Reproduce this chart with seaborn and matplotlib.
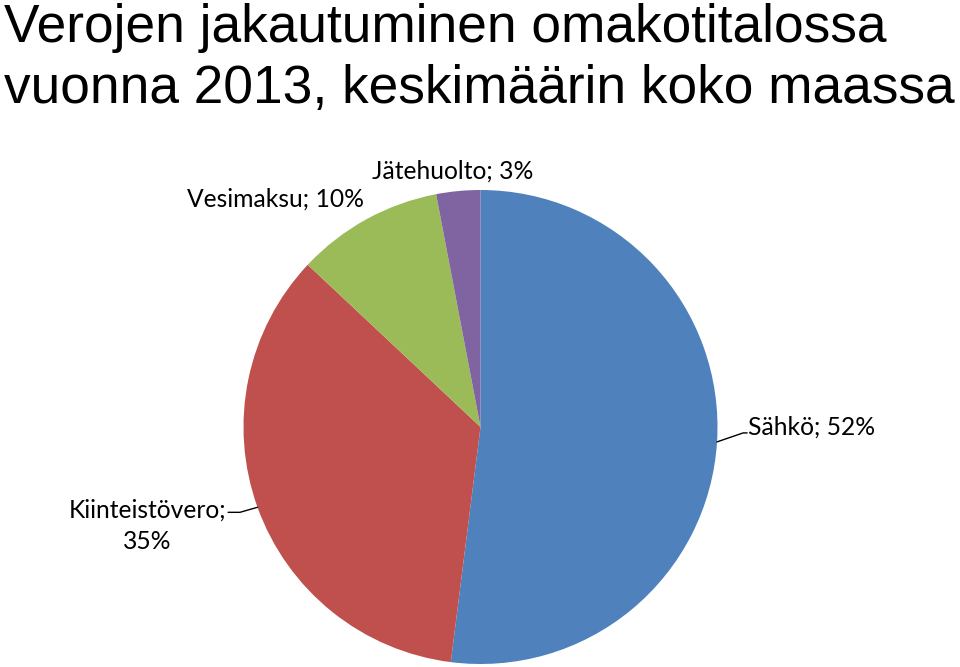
import numpy as np
import matplotlib
matplotlib.use("Agg")
import matplotlib.pyplot as plt
import seaborn as sns

sns.set_theme(style="white")
plt.rcParams['font.family'] = ['Liberation Sans', 'DejaVu Sans']

# Data
categories = ["Sähkö", "Kiinteistövero", "Vesimaksu", "Jätehuolto"]
shares = [52, 35, 10, 3]
colors = ["#4F81BD", "#C0504D", "#9BBB59", "#8064A2"]
title_lines = ["Verojen jakautuminen omakotitalossa",
               "vuonna 2013, keskimäärin koko maassa"]

fig = plt.figure(figsize=(9.6, 6.67), dpi=100)
fig.patch.set_facecolor("white")

# pie axes: centre ~ (480, 427) px, radius ~237 px
cx, cy, r = 480.5, 427, 237
ax = fig.add_axes([(cx - r) / 960, (667 - cy - r) / 667, 2 * r / 960, 2 * r / 667])
wedges, _ = ax.pie(shares, colors=colors, startangle=90, counterclock=False,
                   radius=1, wedgeprops=dict(linewidth=0))
ax.set_xlim(-1, 1)
ax.set_ylim(-1, 1)
ax.set_aspect("equal")
ax.axis("off")

label_font = dict(family=["Lato", "DejaVu Sans"], fontsize=17.7, color="black")
labels = [f"{c}; {v}%" for c, v in zip(categories, shares)]
labels[1] = f"{categories[1]};\n{shares[1]}%"

# label anchor positions (data units) and alignments
label_pos = [(1.13, 0.0, "left"), (-1.405, -0.415, "center"),
             (-0.865, 0.962, "center"), (-0.116, 1.08, "center")]
for w, lab, (tx, ty, ha) in zip(wedges, labels, label_pos):
    ax.text(tx, ty, lab, ha=ha, va="center", multialignment="center",
            linespacing=1.45, clip_on=False, **label_font)

# leader lines for the two side labels
for i, (elbow, end) in {0: ((1.108, -0.025), (1.125, -0.025)),
                        1: ((-1.015, -0.36), (-1.065, -0.36))}.items():
    w = wedges[i]
    ang = np.deg2rad((w.theta1 + w.theta2) / 2)
    sx, sy = np.cos(ang), np.sin(ang)
    ax.plot([sx, elbow[0], end[0]], [sy, elbow[1], end[1]], color="black",
            lw=1, clip_on=False)

fig.text(0.004, 0.995, "\n".join(title_lines), ha="left", va="top",
         fontsize=38.3, linespacing=1.27, color="black",
         family=["Liberation Sans", "DejaVu Sans"])

fig.savefig("out.png", dpi=100, facecolor="white")
